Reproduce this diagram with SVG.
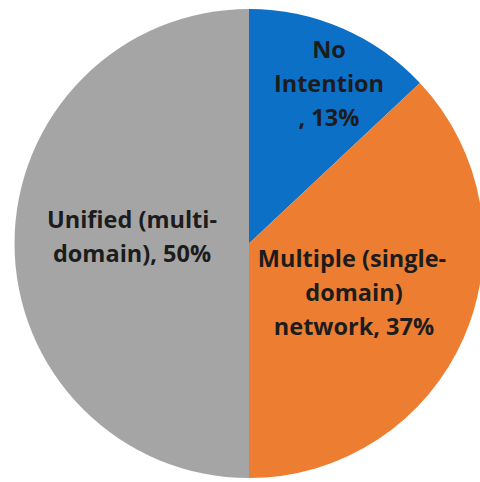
<svg xmlns="http://www.w3.org/2000/svg" width="480" height="482" viewBox="0 0 480 482">
<style>
.lbl{font-family:"Open Sans","Liberation Sans",sans-serif;font-weight:bold;font-size:23.5px;fill:#1c1c1c;text-anchor:middle}
</style>
<rect width="480" height="482" fill="#ffffff"/>
<g id="slice-no-intention">
<path d="M249,243.5 L249,9 A234.5,234.5 0 0 1 419.95,83 Z" fill="#0B70C6"/>
<text class="lbl" x="329" y="58">No</text>
<text class="lbl" x="329" y="92">Intention</text>
<text class="lbl" x="329" y="126">, 13%</text>
</g>
<g id="slice-multiple">
<path d="M249,243.5 L419.95,83 A234.5,234.5 0 0 1 249,478 Z" fill="#ED7D31"/>
<text class="lbl" x="352" y="267">Multiple (single-</text>
<text class="lbl" x="354" y="301">domain)</text>
<text class="lbl" x="354" y="335">network, 37%</text>
</g>
<g id="slice-unified">
<path d="M249,243.5 L249,478 A234.5,234.5 0 0 1 249,9 Z" fill="#A5A5A5"/>
<text class="lbl" x="132" y="228">Unified (multi-</text>
<text class="lbl" x="132" y="262">domain), 50%</text>
</g>
<g id="connectors"/>
</svg>
